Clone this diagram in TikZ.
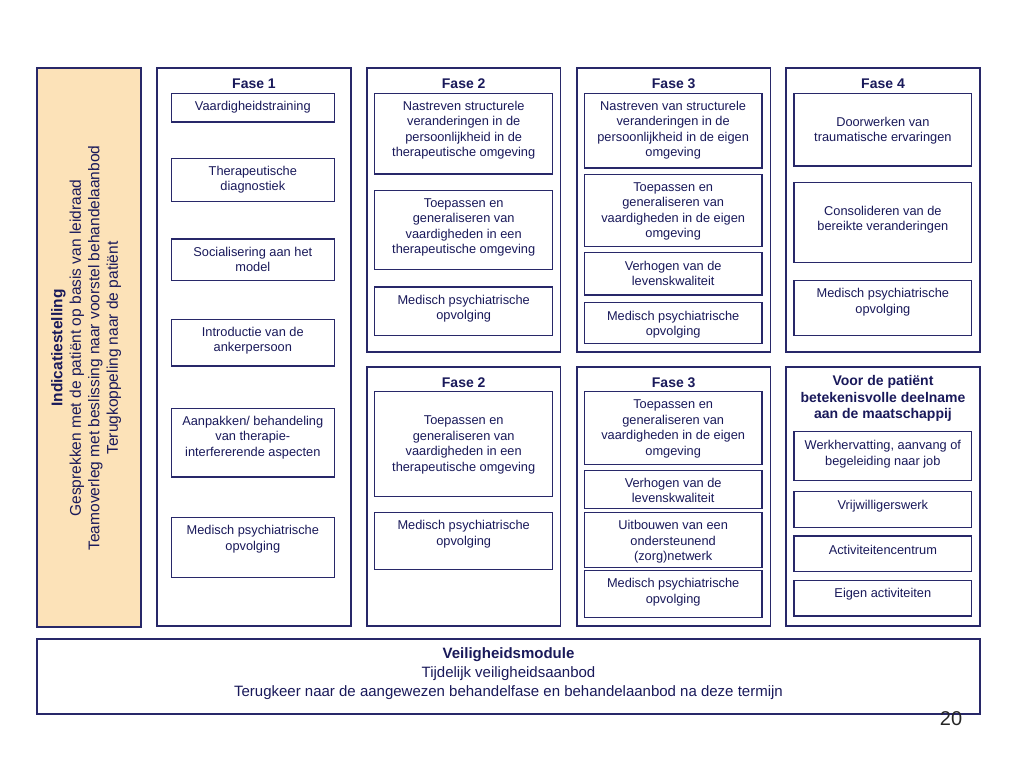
\documentclass[tikz,border=0pt]{standalone}
\usepackage{fontspec}
\setmainfont{Liberation Sans}
\usetikzlibrary{fit}
\definecolor{bordc}{RGB}{40,40,105}
\definecolor{txtc}{RGB}{25,25,90}
\definecolor{indfill}{RGB}{252,226,184}
\tikzset{
 box/.style={draw=bordc, line width=1.2pt, inner sep=0pt, fill=white},
 panel/.style={draw=bordc, line width=1.2pt, inner sep=0pt},
 txt/.style={text=txtc, font=\fontsize{12.8}{15.5}\selectfont, align=center, inner sep=0pt, anchor=north},
 hdr/.style={text=txtc, font=\bfseries\fontsize{14}{16.5}\selectfont, align=center, inner sep=0pt},
 bigtxt/.style={text=txtc, font=\fontsize{15.5}{18.5}\selectfont, align=center, inner sep=0pt},
}
\newcommand\bx[7]{%
 \node[box, fit={(#2,#3)(#4,#5)}] (#1) {};
 \node[txt] (#1t) at ([yshift=-#6pt]#1.north) {\strut #7};}
\begin{document}
\begin{tikzpicture}[x=1pt,y=-1pt]
\useasboundingbox (0,0) rectangle (1024,768);
% panels
\node[panel, fill=indfill, fit={(37,68)(141,627)}] (ind) {};
\node[panel, fit={(157,68)(351,626)}] (p1) {};
\node[panel, fit={(367,68)(560.5,352)}] (p2) {};
\node[panel, fit={(577,68)(770.5,352)}] (p3) {};
\node[panel, fit={(786,68)(980,352)}] (p4) {};
\node[panel, fit={(367,367)(560.5,626)}] (q2) {};
\node[panel, fit={(577,367)(770.5,626)}] (q3) {};
\node[panel, fit={(786,367)(980,626)}] (q4) {};
\node[panel, fit={(37,639)(980,714)}] (veil) {};
% left panel text
\node[bigtxt, rotate=90] (indt) at (86,348) {\textbf{Indicatiestelling}\\Gesprekken met de patiënt op basis van leidraad\\Teamoverleg met beslissing naar voorstel behandelaanbod\\Terugkoppeling naar de patiënt};
% headers
\node[hdr] (h1) at (254,83.5) {Fase 1};
\node[hdr] (h2) at (463.7,83.5) {Fase 2};
\node[hdr] (h3) at (673.7,83.5) {Fase 3};
\node[hdr] (h4) at (883,83.5) {Fase 4};
\node[hdr] (k2) at (463.7,382.5) {Fase 2};
\node[hdr] (k3) at (673.7,382.5) {Fase 3};
\node[hdr] (k4) at (883,398.5) {Voor de patiënt\\betekenisvolle deelname\\aan de maatschappij};
% Fase 1
\bx{f1a}{171.3}{93.3}{334.3}{122}{6.6}{Vaardigheidstraining}
\bx{f1b}{171.3}{158.3}{334.3}{201.7}{6.6}{Therapeutische\\diagnostiek}
\bx{f1c}{171.3}{239}{334.3}{280.5}{6.6}{Socialisering aan het\\model}
\bx{f1d}{171.3}{319.3}{334.3}{366}{6.6}{Introductie van de\\ankerpersoon}
\bx{f1e}{171.3}{408.3}{334.3}{477}{6.6}{Aanpakken/ behandeling\\van therapie-\\interfererende aspecten}
\bx{f1f}{171.3}{517.7}{334.3}{577.3}{6.6}{Medisch psychiatrische\\opvolging}
% Fase 2 top
\bx{f2a}{374.7}{93.3}{552.7}{174}{6.6}{Nastreven structurele\\veranderingen in de\\persoonlijkheid in de\\therapeutische omgeving}
\bx{f2b}{374.7}{190.3}{552.7}{269.3}{6.6}{Toepassen en\\generaliseren van\\vaardigheden in een\\therapeutische omgeving}
\bx{f2c}{374.7}{287}{552.7}{335.3}{6.6}{Medisch psychiatrische\\opvolging}
% Fase 3 top
\bx{f3a}{584.3}{93.3}{762}{168}{6.6}{Nastreven van structurele\\veranderingen in de\\persoonlijkheid in de eigen\\omgeving}
\bx{f3b}{584.3}{174.3}{762}{246.3}{6.6}{Toepassen en\\generaliseren van\\vaardigheden in de eigen\\omgeving}
\bx{f3c}{584.3}{252.3}{762}{295}{7.4}{Verhogen van de\\levenskwaliteit}
\bx{f3d}{584.3}{302.7}{762}{343.3}{7}{Medisch psychiatrische\\opvolging}
% Fase 4
\bx{f4a}{794}{93.3}{971.7}{166}{22.6}{Doorwerken van\\traumatische ervaringen}
\bx{f4b}{794}{182.3}{971.7}{262.7}{22.3}{Consolideren van de\\bereikte veranderingen}
\bx{f4c}{794}{280.7}{971.7}{335.3}{6.6}{Medisch psychiatrische\\opvolging}
% Fase 2 bottom
\bx{g2a}{374.7}{391.7}{552.7}{496.3}{22.6}{Toepassen en\\generaliseren van\\vaardigheden in een\\therapeutische omgeving}
\bx{g2b}{374.7}{512.7}{552.7}{569.3}{6.6}{Medisch psychiatrische\\opvolging}
% Fase 3 bottom
\bx{g3a}{584.3}{391.7}{762}{464.3}{6.6}{Toepassen en\\generaliseren van\\vaardigheden in de eigen\\omgeving}
\bx{g3b}{584.3}{470.3}{762}{508.7}{6.6}{Verhogen van de\\levenskwaliteit}
\bx{g3c}{584.3}{512.7}{762}{567.3}{6.6}{Uitbouwen van een\\ondersteunend\\(zorg)netwerk}
\bx{g3d}{584.3}{570.7}{762}{617.3}{6.6}{Medisch psychiatrische\\opvolging}
% Voor de patient
\bx{v1}{794}{431.7}{971.7}{480.3}{7.6}{Werkhervatting, aanvang of\\begeleiding naar job}
\bx{v2}{794}{491.7}{971.7}{527.3}{7.6}{Vrijwilligerswerk}
\bx{v3}{794}{536}{971.7}{571.7}{7.6}{Activiteitencentrum}
\bx{v4}{794}{580.3}{971.7}{616}{6.6}{Eigen activiteiten}
% Veiligheidsmodule
\node[text=txtc, font=\fontsize{15}{19}\selectfont, align=center, inner sep=0pt] (veilt) at (508.5,674) {\textbf{Veiligheidsmodule}\\Tijdelijk veiligheidsaanbod\\Terugkeer naar de aangewezen behandelfase en behandelaanbod na deze termijn};
% page number
\node[font=\fontsize{20}{24}\selectfont, text=black!85, inner sep=0pt] (pg) at (951,718.5) {20};
\end{tikzpicture}
\end{document}
